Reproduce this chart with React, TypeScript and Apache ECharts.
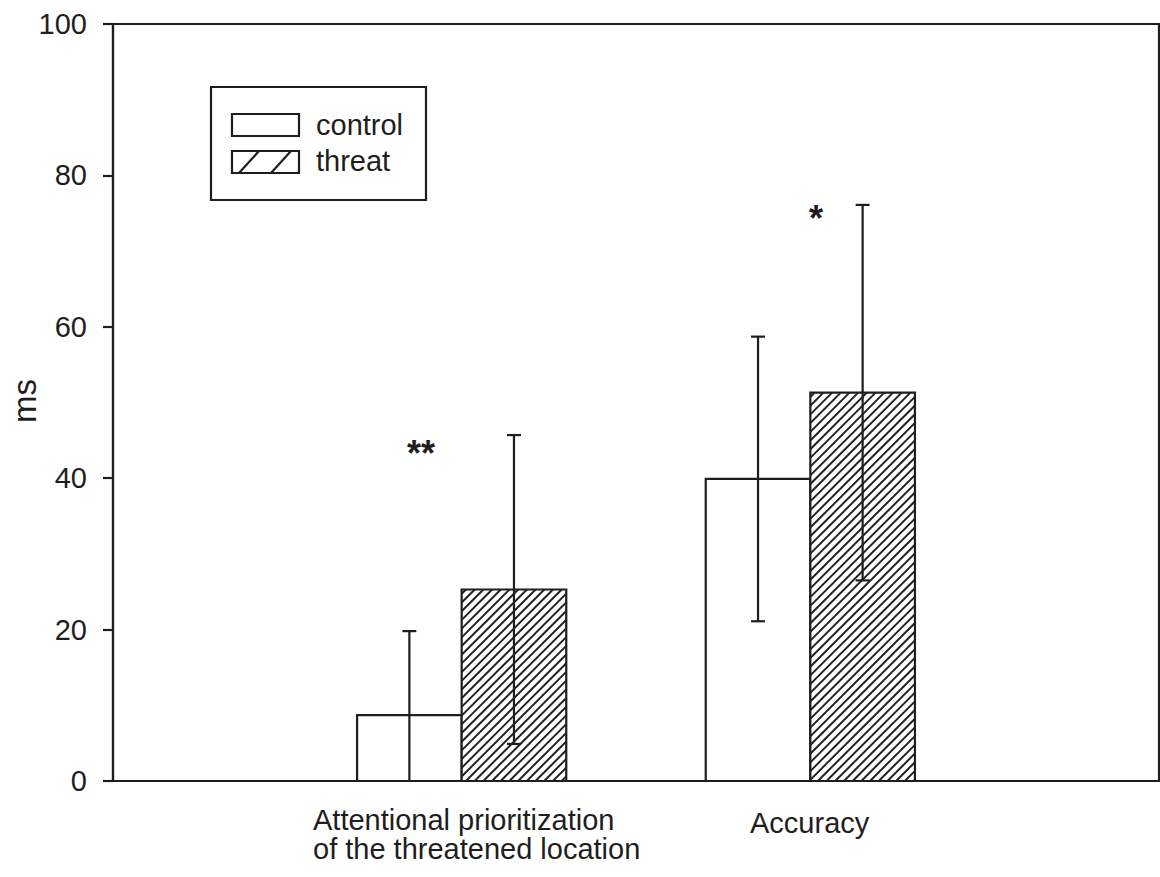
import React, { useEffect, useRef } from "react";
import * as echarts from "echarts";

// ---- data ----
const categories = ["Attentional prioritization\nof the threatened location", "Accuracy"];
const categoryIndex = [1, 2];
const seriesNames = ["control", "threat"];
const controlMeans = [8.7, 39.9];
const controlErr = [11.1, 18.8];
const threatMeans = [25.3, 51.3];
const threatErr = [20.4, 24.8];
const significance = ["**", "*"];
const yAxisName = "ms";
const yMin = 0;
const yMax = 100;
const yInterval = 20;

const INK = "#1e1e1e";
const FONT = "'Liberation Sans', Arial, Helvetica, sans-serif";
const BAR_W = 0.3;
const LW = 2.2;

function makeRenderItem(side: number, hatched: boolean) {
  return (params: any, api: any) => {
    const xc = api.value(0);
    const mean = api.value(1);
    const err = api.value(2);
    const xl = side < 0 ? xc - BAR_W : xc;
    const xr = side < 0 ? xc : xc + BAR_W;
    const p0 = api.coord([xl, mean]);
    const p1 = api.coord([xr, 0]);
    const x0 = p0[0], y0 = p0[1], x1 = p1[0], y1 = p1[1];
    const children: any[] = [];
    children.push({
      type: "rect",
      shape: { x: x0, y: y0, width: x1 - x0, height: y1 - y0 },
      style: { fill: "#ffffff", stroke: null },
    });
    if (hatched) {
      const step = 8.7;
      const cStart = x0 + y0;
      const cEnd = x1 + y1;
      for (let c = cStart + step / 2; c < cEnd; c += step) {
        const sx = Math.max(x0, c - y1);
        const ex = Math.min(x1, c - y0);
        if (ex > sx) {
          children.push({
            type: "line",
            shape: { x1: sx, y1: c - sx, x2: ex, y2: c - ex },
            style: { stroke: INK, lineWidth: 1.9 },
          });
        }
      }
    }
    children.push({
      type: "rect",
      shape: { x: x0, y: y0, width: x1 - x0, height: y1 - y0 },
      style: { fill: null, stroke: INK, lineWidth: LW },
    });
    // error bar
    const xm = (xl + xr) / 2;
    const top = api.coord([xm, mean + err]);
    const lowVal = Math.max(0, mean - err);
    const bot = api.coord([xm, lowVal]);
    const cap = 7;
    children.push({
      type: "line",
      shape: { x1: top[0], y1: top[1], x2: bot[0], y2: bot[1] },
      style: { stroke: INK, lineWidth: LW },
    });
    children.push({
      type: "line",
      shape: { x1: top[0] - cap, y1: top[1], x2: top[0] + cap, y2: top[1] },
      style: { stroke: INK, lineWidth: LW },
    });
    if (lowVal > 0) {
      children.push({
        type: "line",
        shape: { x1: bot[0] - cap, y1: bot[1], x2: bot[0] + cap, y2: bot[1] },
        style: { stroke: INK, lineWidth: LW },
      });
    }
    return { type: "group", children };
  };
}

export default function App() {
  const ref = useRef<HTMLDivElement>(null);
  useEffect(() => {
    if (!ref.current) return;
    const chart = echarts.init(ref.current, undefined, { renderer: "svg" });

    const controlData = categoryIndex.map((x, i) => [x, controlMeans[i], controlErr[i]]);
    const threatData = categoryIndex.map((x, i) => [x, threatMeans[i], threatErr[i]]);

    const textStyle = { fill: INK, fontFamily: FONT, fontSize: 29 };
    const cat0Lines = categories[0].split("\n");

    const option: any = {
      animation: false,
      backgroundColor: "#ffffff",
      grid: {
        left: 113,
        right: 1,
        top: 24,
        bottom: 96,
        containLabel: false,
        outerBoundsMode: "none",
        show: true,
        borderColor: INK,
        borderWidth: LW,
        backgroundColor: "transparent",
      },
      xAxis: {
        type: "value",
        min: 0,
        max: 3,
        splitLine: { show: false },
        axisTick: { show: false },
        axisLabel: { show: false },
        axisLine: { show: true, lineStyle: { color: INK, width: LW } },
      },
      yAxis: {
        type: "value",
        min: yMin,
        max: yMax,
        interval: yInterval,
        splitLine: { show: false },
        axisLine: { show: true, lineStyle: { color: INK, width: LW } },
        axisTick: { show: true, length: 10, inside: false, lineStyle: { color: INK, width: LW } },
        axisLabel: { color: INK, fontFamily: FONT, fontSize: 29, margin: 26 },
      },
      series: [
        {
          name: seriesNames[0],
          type: "custom",
          renderItem: makeRenderItem(-1, false),
          data: controlData,
          z: 2,
        },
        {
          name: seriesNames[1],
          type: "custom",
          renderItem: makeRenderItem(1, true),
          data: threatData,
          z: 3,
        },
      ],
      graphic: [
        // y axis title
        {
          type: "text",
          x: 24,
          y: 401,
          rotation: Math.PI / 2,
          style: {
            text: yAxisName,
            fill: INK,
            fontFamily: FONT,
            fontSize: 33,
            align: "center",
            verticalAlign: "middle",
          },
        },
        // category labels
        ...cat0Lines.map((line, i) => ({
          type: "text",
          x: 313,
          y: 819.5 + i * 29.3,
          style: { ...textStyle, text: line, align: "left", verticalAlign: "middle" },
        })),
        {
          type: "text",
          x: 750,
          y: 823,
          style: { ...textStyle, text: categories[1], align: "left", verticalAlign: "middle" },
        },
        // significance
        {
          type: "text",
          x: 421,
          y: 453,
          style: {
            text: significance[0],
            fill: INK,
            fontFamily: FONT,
            fontSize: 36,
            fontWeight: "bold",
            align: "center",
            verticalAlign: "middle",
          },
        },
        {
          type: "text",
          x: 816,
          y: 218,
          style: {
            text: significance[1],
            fill: INK,
            fontFamily: FONT,
            fontSize: 36,
            fontWeight: "bold",
            align: "center",
            verticalAlign: "middle",
          },
        },
        // legend
        {
          type: "group",
          children: [
            {
              type: "rect",
              shape: { x: 211, y: 87, width: 215, height: 113 },
              style: { fill: "#ffffff", stroke: INK, lineWidth: LW },
            },
            {
              type: "rect",
              shape: { x: 232, y: 114, width: 67, height: 22 },
              style: { fill: "#ffffff", stroke: INK, lineWidth: LW },
            },
            {
              type: "rect",
              shape: { x: 232, y: 151, width: 67, height: 22 },
              style: { fill: "#ffffff", stroke: INK, lineWidth: LW },
            },
            {
              type: "line",
              shape: { x1: 239, y1: 173, x2: 259, y2: 151 },
              style: { stroke: INK, lineWidth: LW },
            },
            {
              type: "line",
              shape: { x1: 271, y1: 173, x2: 291, y2: 151 },
              style: { stroke: INK, lineWidth: LW },
            },
            {
              type: "text",
              x: 316,
              y: 125,
              style: { ...textStyle, text: seriesNames[0], align: "left", verticalAlign: "middle" },
            },
            {
              type: "text",
              x: 316,
              y: 161,
              style: { ...textStyle, text: seriesNames[1], align: "left", verticalAlign: "middle" },
            },
          ],
        },
      ],
    };
    chart.setOption(option);
    return () => chart.dispose();
  }, []);

  return (
    <div
      ref={ref}
      style={{ position: "fixed", left: 0, top: 0, width: 1160, height: 877, background: "#fff" }}
    />
  );
}
